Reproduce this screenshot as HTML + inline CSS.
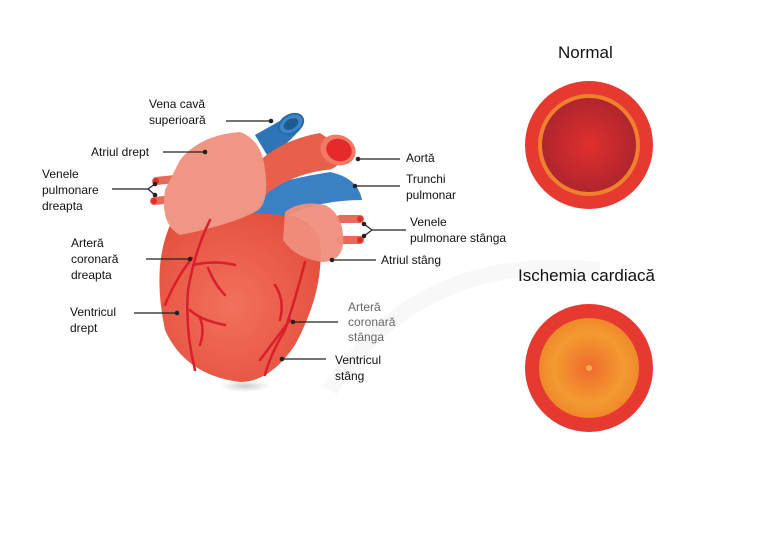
<!DOCTYPE html>
<html><head><meta charset="utf-8"><style>
html,body{margin:0;padding:0;background:#fff}
svg{display:block}
text{font-family:"Liberation Sans",sans-serif;font-size:12px;fill:#111}
</style></head><body>
<svg width="774" height="544" viewBox="0 0 774 544">
<defs>
<radialGradient id="nin" cx="50%" cy="50%" r="50%"><stop offset="0" stop-color="#e0302c"/><stop offset="1" stop-color="#b0252e"/></radialGradient>
<radialGradient id="isc" cx="50%" cy="50%" r="50%"><stop offset="0" stop-color="#ef6a2c"/><stop offset="0.7" stop-color="#f39a30"/><stop offset="1" stop-color="#f0882c"/></radialGradient>
<radialGradient id="hg" cx="45%" cy="55%" r="60%"><stop offset="0" stop-color="#f2715c"/><stop offset="1" stop-color="#e4503e"/></radialGradient>
<radialGradient id="sh" cx="50%" cy="50%" r="50%"><stop offset="0" stop-color="#ccc"/><stop offset="1" stop-color="#fff"/></radialGradient>
</defs>
<path d="M330 390 Q420 250 600 270" stroke="#f8f8f8" stroke-width="16" fill="none"/>
<ellipse cx="245" cy="386" rx="25" ry="6" fill="url(#sh)"/>
<g stroke="#e86a58" stroke-width="8" stroke-linecap="round"><line x1="156" y1="181" x2="185" y2="178"/><line x1="154" y1="201" x2="185" y2="198"/><line x1="340" y1="219" x2="360" y2="219"/><line x1="340" y1="240" x2="360" y2="240"/></g>
<g fill="#d9302a"><circle cx="156" cy="181" r="3"/><circle cx="154" cy="201" r="3"/><circle cx="360" cy="219" r="3"/><circle cx="360" cy="240" r="3"/></g>
<path d="M255 135 L285 118 L300 130 L270 160 Z" fill="#2f74b8"/>
<ellipse cx="291" cy="124" rx="13" ry="9" transform="rotate(-30 291 124)" fill="#3a86c8" stroke="#2a6aa8" stroke-width="2"/>
<ellipse cx="291" cy="124" rx="8" ry="5" transform="rotate(-30 291 124)" fill="#1f5a90"/>
<path d="M235 195 Q280 180 330 172 Q358 178 362 200 Q320 200 290 215 L270 240 L235 240 Z" fill="#3a80c4"/>
<path d="M175 215 Q150 260 165 330 Q185 375 240 382 Q270 382 295 345 Q325 290 320 240 Q310 215 280 215 Q230 210 175 215 Z" fill="url(#hg)"/>
<path d="M255 165 Q280 140 320 133 L345 150 Q340 170 325 170 Q290 175 265 195 Z" fill="#e8604c"/>
<ellipse cx="338" cy="150" rx="18" ry="15" transform="rotate(20 338 150)" fill="#f07a66"/>
<ellipse cx="339" cy="150" rx="13" ry="11" transform="rotate(20 339 150)" fill="#e42a2a"/>
<path d="M180 160 Q200 135 240 132 Q262 140 265 170 Q270 205 255 212 Q230 225 180 235 Q160 225 165 190 Z" fill="#f19584"/>
<path d="M285 212 Q300 200 325 205 Q345 215 343 245 Q340 262 322 262 Q295 258 283 240 Z" fill="#f08e7c" opacity="0.95"/>
<g fill="none" stroke="#d81f2a" stroke-width="2.5" stroke-linecap="round">
<path d="M210 220 Q195 250 188 290 Q185 330 195 370"/>
<path d="M192 258 Q175 280 165 305"/>
<path d="M193 265 Q215 260 235 265"/><path d="M208 268 Q215 285 225 295"/>
<path d="M190 310 Q200 320 225 325"/><path d="M200 318 Q205 330 200 345"/>
<path d="M305 262 Q295 300 285 330 Q270 355 265 375"/>
<path d="M275 285 Q285 300 280 320"/><path d="M290 320 Q275 340 260 360"/>
</g>
<circle cx="589" cy="145" r="64" fill="#e63a30"/>
<circle cx="589" cy="145" r="51" fill="#f0802e"/>
<circle cx="589" cy="145" r="47" fill="url(#nin)"/>
<circle cx="589" cy="368" r="64" fill="#e63a30"/>
<circle cx="589" cy="368" r="50" fill="url(#isc)"/>
<circle cx="589" cy="368" r="3" fill="#f5b050"/>
<text x="558" y="58" style="font-size:17px">Normal</text>
<text x="518" y="281" style="font-size:17px">Ischemia cardiacă</text>
<g stroke="#222" stroke-width="1.2" fill="none">
<line x1="226" y1="121" x2="271" y2="121"/>
<line x1="163" y1="152" x2="205" y2="152"/>
<line x1="112" y1="189" x2="148" y2="189"/><path d="M148 189 L155 184 M148 189 L155 195"/>
<line x1="146" y1="259" x2="190" y2="259"/>
<line x1="134" y1="313" x2="177" y2="313"/>
<line x1="358" y1="159" x2="400" y2="159"/>
<line x1="355" y1="186" x2="400" y2="186"/>
<path d="M364 224 L372 230 L364 236 M372 230 L406 230"/>
<line x1="332" y1="260" x2="376" y2="260"/>
<line x1="293" y1="322" x2="338" y2="322"/>
<line x1="282" y1="359" x2="326" y2="359"/>
</g>
<g fill="#222"><circle cx="271" cy="121" r="2.3"/><circle cx="205" cy="152" r="2.3"/><circle cx="155" cy="184" r="2.3"/><circle cx="155" cy="195" r="2.3"/><circle cx="190" cy="259" r="2.3"/><circle cx="177" cy="313" r="2.3"/><circle cx="358" cy="159" r="2.3"/><circle cx="355" cy="186" r="2.3"/><circle cx="364" cy="224" r="2.3"/><circle cx="364" cy="236" r="2.3"/><circle cx="332" cy="260" r="2.3"/><circle cx="293" cy="322" r="2.3"/><circle cx="282" cy="359" r="2.3"/></g>
<text x="149" y="108">Vena cavă</text><text x="149" y="124">superioară</text>
<text x="91" y="156">Atriul drept</text>
<text x="42" y="178">Venele</text><text x="42" y="194">pulmonare</text><text x="42" y="210">dreapta</text>
<text x="71" y="247">Arteră</text><text x="71" y="263">coronară</text><text x="71" y="279">dreapta</text>
<text x="70" y="316">Ventricul</text><text x="70" y="332">drept</text>
<text x="406" y="162">Aortă</text>
<text x="406" y="183">Trunchi</text><text x="406" y="199">pulmonar</text>
<text x="410" y="226">Venele</text><text x="410" y="242">pulmonare stânga</text>
<text x="381" y="264">Atriul stâng</text>
<text x="348" y="311" style="fill:#666">Arteră</text><text x="348" y="326" style="fill:#666">coronară</text><text x="348" y="341" style="fill:#666">stânga</text>
<text x="335" y="364">Ventricul</text><text x="335" y="380">stâng</text>
</svg>
</body></html>
